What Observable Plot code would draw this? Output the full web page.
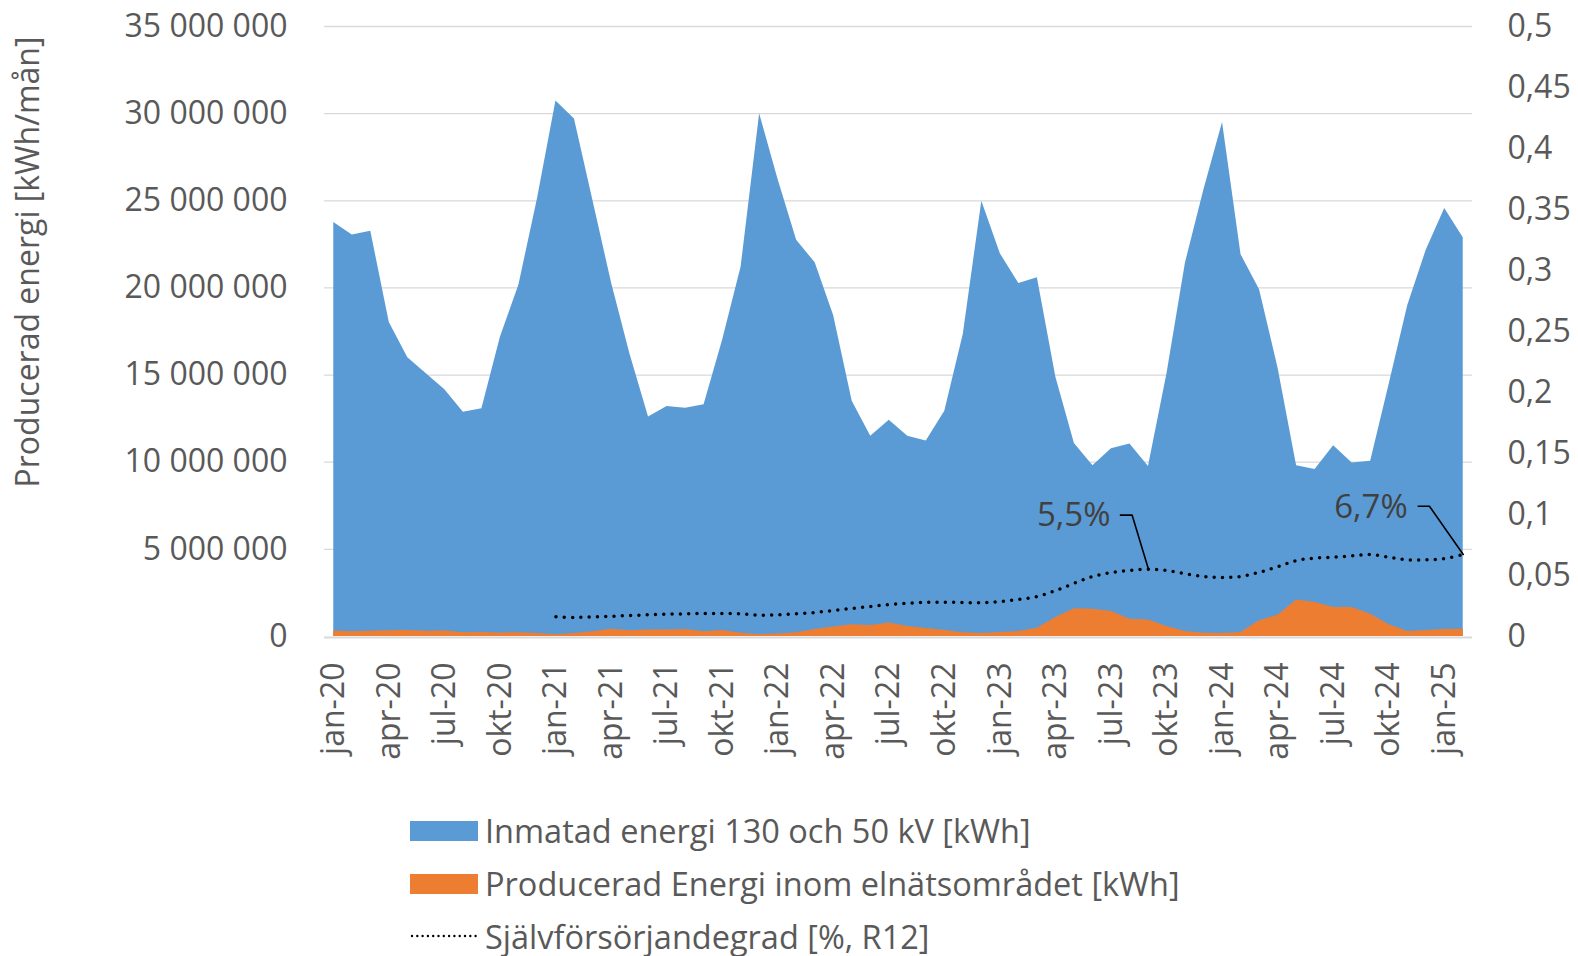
<!DOCTYPE html>
<html>
<head>
<meta charset="utf-8">
<script src="https://cdn.jsdelivr.net/npm/d3@7"></script>
<script src="https://cdn.jsdelivr.net/npm/@observablehq/plot@0.6"></script>
<style>
  html, body { margin: 0; padding: 0; background: #fff; }
  body { font-family: "Open Sans", sans-serif; width: 1578px; }
  #chart svg { display: block; }
  #legend { margin-left: 410px; padding-top: 4.6px; color: #595959; font-size: 32.5px; }
  .row { display: flex; align-items: center; height: 52.7px; white-space: nowrap; }
  .sw { display: inline-block; width: 68px; height: 20px; margin-right: 7px; flex: none; }
  .dot { display: block; width: 68px; height: 20px; margin-right: 7px; flex: none; }
</style>
</head>
<body>
<div id="chart"></div>
<div id="legend"></div>
<script>
// ---------- data ----------
const monthNames = ["jan","feb","mar","apr","maj","jun","jul","aug","sep","okt","nov","dec"];
const yearLabels = ["20","21","22","23","24","25"];
const monthCount = 62; // jan-20 .. feb-25

// Inmatad energi 130 och 50 kV [kWh]
const inmatad = [
  23760000, 23040000, 23250000, 18020000, 16000000, 15080000, 14160000, 12870000, 13070000, 17170000, 20170000, 25100000,
  30720000, 29690000, 25000000, 20300000, 16200000, 12600000, 13200000, 13100000, 13300000, 17000000, 21200000, 30000000,
  26200000, 22740000, 21440000, 18400000, 13500000, 11490000, 12410000, 11490000, 11220000, 12930000, 17340000, 24970000,
  21960000, 20250000, 20580000, 14880000, 11080000, 9790000, 10770000, 11040000, 9750000, 15080000, 21440000, 25650000,
  29490000, 21900000, 19900000, 15390000, 9790000, 9580000, 10940000, 9950000, 10050000, 14470000, 18980000, 22160000,
  24560000, 22880000
];

// Producerad Energi inom elnätsområdet [kWh]
const producerad = [
  310000, 270000, 300000, 330000, 340000, 300000, 310000, 220000, 230000, 200000, 220000, 170000,
  100000, 170000, 270000, 420000, 330000, 380000, 380000, 400000, 270000, 340000, 190000, 100000,
  150000, 210000, 400000, 550000, 670000, 630000, 770000, 570000, 460000, 340000, 210000, 170000,
  230000, 290000, 480000, 1090000, 1590000, 1570000, 1430000, 990000, 940000, 570000, 290000, 190000,
  170000, 230000, 900000, 1220000, 2100000, 1950000, 1660000, 1660000, 1280000, 670000, 290000, 340000,
  400000, 420000
];

// Självförsörjandegrad [%, R12] (fraction, right axis)
const sjalv = [
  null, null, null, null, null, null, null, null, null, null, null, null,
  0.0161, 0.0156, 0.0161, 0.0166, 0.0172, 0.0178, 0.0183, 0.0186, 0.0189, 0.0189, 0.0186, 0.0175,
  0.0178, 0.0186, 0.0197, 0.0213, 0.0230, 0.0246, 0.0262, 0.0273, 0.0281, 0.0281, 0.0279, 0.0276,
  0.0287, 0.0304, 0.0328, 0.0377, 0.0437, 0.0492, 0.0525, 0.0541, 0.0552, 0.0541, 0.0514, 0.0492,
  0.0484, 0.0492, 0.0527, 0.0574, 0.0623, 0.0642, 0.0650, 0.0661, 0.0672, 0.0650, 0.0628, 0.0628,
  0.0639, 0.0672
];

const leftTicks = [0, 5000000, 10000000, 15000000, 20000000, 25000000, 30000000, 35000000];
const rightTicks = [0, 0.05, 0.1, 0.15, 0.2, 0.25, 0.3, 0.35, 0.4, 0.45, 0.5];
const annotatedMonths = [44, 61];

const yTitle = "Producerad energi [kWh/mån]";
const legendLabels = [
  "Inmatad energi 130 och 50 kV [kWh]",
  "Producerad Energi inom elnätsområdet [kWh]",
  "Självförsörjandegrad [%, R12]"
];

// ---------- derived ----------
const months = d3.range(monthCount).map(i => monthNames[i % 12] + "-" + yearLabels[Math.floor(i / 12)]);
const rows = months.map((m, i) => ({i, m, inmatad: inmatad[i], producerad: producerad[i], sjalv: sjalv[i]}));
const sjRows = rows.filter(d => d.sjalv != null);
const K = 35000000 / 0.5; // right axis value -> left axis units
const tickIdx = d3.range(0, monthCount, 3);

const fmtL = d => d3.format(",")(d).replace(/,/g, " ");
const fmtR = d => String(Math.round(d / K * 1000) / 1000).replace(".", ",");
const fmtPct = v => (v * 100).toFixed(1).replace(".", ",") + "%";

// ---------- layout ----------
const W = 1578, H = 800, MT = 26, MB = 164, ML = 324, MR = 106;
const pxX = (W - ML - MR) / monthCount;
const pxY = (H - MT - MB) / 35000000;
// annotation layout (pixel offsets from the data point)
const annLayout = {
  44: {tdx: -38, tdy: -54, lx: -28, cx: -16.3, ly: -54},
  61: {tdx: -55.5, tdy: -47, lx: -45, cx: -33.8, ly: -48.3}
};
const annRows = annotatedMonths.map(i => ({i, y: sjalv[i] * K, label: fmtPct(sjalv[i])}));
const leaderPts = annRows.flatMap(a => {
  const L = annLayout[a.i];
  return [
    {key: a.i, x: a.i + L.lx / pxX, y: a.y - L.ly / pxY},
    {key: a.i, x: a.i + L.cx / pxX, y: a.y - L.ly / pxY},
    {key: a.i, x: a.i, y: a.y}
  ];
});

const annTextMarks = annRows.map(a => Plot.text([a], {
  x: "i", y: "y", text: "label",
  textAnchor: "end", lineAnchor: "middle",
  dx: annLayout[a.i].tdx, dy: annLayout[a.i].tdy,
  fill: "#404040", fontSize: 33
}));

const plot = Plot.plot({
  width: W, height: H,
  marginTop: MT, marginBottom: MB, marginLeft: ML, marginRight: MR,
  style: {fontFamily: '"Open Sans", sans-serif', fontSize: "32px", color: "#595959", background: "#fff", overflow: "visible"},
  x: {type: "linear", domain: [-0.5, monthCount - 0.5]},
  y: {domain: [0, 35000000]},
  marks: [
    Plot.ruleY(leftTicks.filter(d => d > 0), {stroke: "#d9d9d9", strokeWidth: 1.3}),
    Plot.areaY(rows, {x: "i", y: "inmatad", fill: "#5b9bd5"}),
    Plot.areaY(rows, {x: "i", y: "producerad", fill: "#ed7d31"}),
    Plot.ruleY([0], {stroke: "#d9d9d9", strokeWidth: 2, dy: 1}),
    Plot.lineY(sjRows, {x: "i", y: d => d.sjalv * K, stroke: "#000", strokeWidth: 3.5,
      strokeDasharray: "0,8.3", strokeLinecap: "round", curve: "catmull-rom"}),
    Plot.line(leaderPts, {x: "x", y: "y", z: "key", stroke: "#000", strokeWidth: 1.6}),
    ...annTextMarks,
    Plot.axisX({ticks: tickIdx, tickFormat: i => months[i], tickRotate: -90, tickSize: 0, tickPadding: 26, fontSize: 32, label: null}),
    Plot.axisY({anchor: "left", ticks: leftTicks, tickFormat: fmtL, tickSize: 0, tickPadding: 37, fontSize: 32, label: null}),
    Plot.axisY({anchor: "right", ticks: rightTicks.map(v => v * K), tickFormat: fmtR, tickSize: 0, tickPadding: 35, fontSize: 32, label: null}),
    Plot.text([yTitle], {frameAnchor: "left", text: d => d, rotate: -90, textAnchor: "middle", lineAnchor: "middle",
      dx: -296, dy: -69.5, fill: "#595959", fontSize: 32})
  ]
});
document.getElementById("chart").appendChild(plot);

// ---------- legend ----------
const legend = d3.select("#legend");
const r1 = legend.append("div").attr("class", "row");
r1.append("span").attr("class", "sw").style("background", "#5b9bd5");
r1.append("span").text(legendLabels[0]);
const r2 = legend.append("div").attr("class", "row");
r2.append("span").attr("class", "sw").style("background", "#ed7d31");
r2.append("span").text(legendLabels[1]);
const r3 = legend.append("div").attr("class", "row");
const s3 = r3.append("svg").attr("class", "dot").attr("width", 68).attr("height", 20);
s3.append("line").attr("x1", 2).attr("x2", 66).attr("y1", 10).attr("y2", 10)
  .attr("stroke", "#000").attr("stroke-width", 2.4).attr("stroke-linecap", "round").attr("stroke-dasharray", "0,5.3");
r3.append("span").text(legendLabels[2]);
</script>
</body>
</html>
